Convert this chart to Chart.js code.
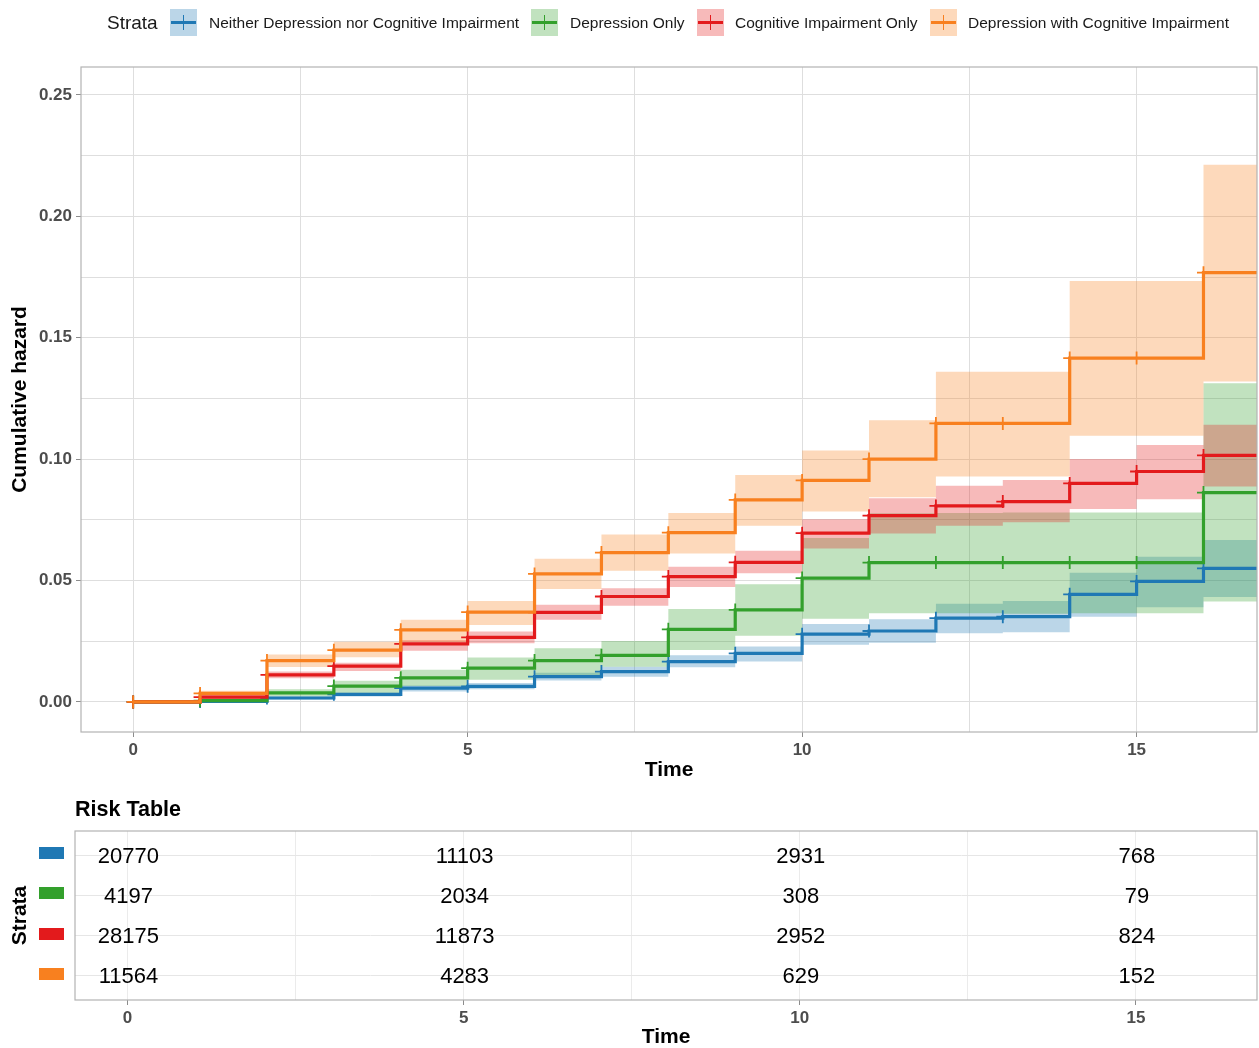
<!DOCTYPE html>
<html>
<head>
<meta charset="utf-8">
<title>Cumulative hazard by strata</title>
<script src="https://cdn.jsdelivr.net/npm/chart.js@4.4.1/dist/chart.umd.min.js"></script>
<style>
  html, body { margin: 0; padding: 0; background: #ffffff; overflow: hidden; }
  #page { position: relative; width: 1259px; height: 1048px; font-family: 'Liberation Sans', Arial, Helvetica, sans-serif; color: #1a1a1a; }
  canvas { position: absolute; left: 0; }
  #hazardChart { top: 0; }
  #riskChart { top: 790px; }
  .lg-title { position: absolute; left: 107px; top: 9px; height: 27px; line-height: 27px; font-size: 19px; }
  .lg-text { position: absolute; top: 9px; height: 27px; line-height: 27px; font-size: 15.5px; white-space: nowrap; }
  .lg-key { position: absolute; top: 9px; width: 27px; height: 27px; }
  .lg-key .h { position: absolute; left: 1px; width: 25px; top: 12px; height: 3px; }
  .lg-key .v { position: absolute; left: 12.5px; width: 1.7px; top: 6px; height: 15px; }
  #riskTitle { position: absolute; left: 75px; top: 797px; line-height: 24px; font-size: 21.5px; font-weight: bold; color: #000; }
</style>
</head>
<body>
<div id="page">
  <canvas id="hazardChart" width="1259" height="790"></canvas>
  <canvas id="riskChart" width="1259" height="260"></canvas>
  <div id="legend"></div>
  <div id="riskTitle">Risk Table</div>
</div>
<script>
// ---- data ----
const strata = [
  'Neither Depression nor Cognitive Impairment',
  'Depression Only',
  'Cognitive Impairment Only',
  'Depression with Cognitive Impairment'
];
const strataColors = ['#1f78b4', '#33a02c', '#e31a1c', '#f8801f'];

// follow-up years at which the cumulative hazard steps
const times = [0, 1, 2, 3, 4, 5, 6, 7, 8, 9, 10, 11, 12, 13, 14, 15, 16];

const hazNeither  = [0, 0.0002, 0.0016, 0.0031, 0.0057, 0.0064, 0.0104, 0.0125, 0.0166, 0.0200, 0.0279, 0.0292, 0.0345, 0.0351, 0.0443, 0.0496, 0.0550];
const lowNeither  = [0, 0.0000, 0.0010, 0.0022, 0.0043, 0.0052, 0.0088, 0.0104, 0.0143, 0.0166, 0.0235, 0.0244, 0.0283, 0.0287, 0.0351, 0.0390, 0.0432];
const highNeither = [0, 0.0006, 0.0022, 0.0038, 0.0068, 0.0078, 0.0120, 0.0145, 0.0192, 0.0228, 0.0321, 0.0340, 0.0404, 0.0416, 0.0532, 0.0598, 0.0667];

const hazDepOnly  = [0, 0.0005, 0.0037, 0.0065, 0.0099, 0.0139, 0.0170, 0.0192, 0.0299, 0.0379, 0.0510, 0.0574, 0.0574, 0.0574, 0.0574, 0.0574, 0.0862];
const lowDepOnly  = [0, 0.0000, 0.0022, 0.0036, 0.0065, 0.0091, 0.0111, 0.0145, 0.0214, 0.0272, 0.0342, 0.0365, 0.0365, 0.0363, 0.0365, 0.0365, 0.0413];
const highDepOnly = [0, 0.0013, 0.0052, 0.0087, 0.0132, 0.0183, 0.0221, 0.0251, 0.0383, 0.0485, 0.0675, 0.0777, 0.0778, 0.0780, 0.0780, 0.0780, 0.1312];

const hazCogOnly  = [0, 0.0020, 0.0111, 0.0147, 0.0239, 0.0266, 0.0369, 0.0434, 0.0516, 0.0575, 0.0695, 0.0767, 0.0807, 0.0825, 0.0900, 0.0949, 0.1015];
const lowCogOnly  = [0, 0.0012, 0.0097, 0.0127, 0.0211, 0.0242, 0.0338, 0.0396, 0.0473, 0.0530, 0.0632, 0.0694, 0.0725, 0.0740, 0.0795, 0.0835, 0.0887];
const highCogOnly = [0, 0.0030, 0.0125, 0.0161, 0.0255, 0.0290, 0.0400, 0.0468, 0.0557, 0.0623, 0.0752, 0.0839, 0.0890, 0.0914, 0.1000, 0.1058, 0.1141];

const hazBoth  = [0, 0.0035, 0.0170, 0.0213, 0.0297, 0.0370, 0.0527, 0.0615, 0.0697, 0.0832, 0.0912, 0.1000, 0.1147, 0.1147, 0.1416, 0.1416, 0.1768];
const lowBoth  = [0, 0.0024, 0.0144, 0.0184, 0.0247, 0.0317, 0.0465, 0.0540, 0.0611, 0.0726, 0.0784, 0.0843, 0.0928, 0.0928, 0.1096, 0.1096, 0.1320];
const highBoth = [0, 0.0046, 0.0195, 0.0248, 0.0338, 0.0416, 0.0590, 0.0689, 0.0778, 0.0935, 0.1035, 0.1160, 0.1360, 0.1360, 0.1734, 0.1734, 0.2212];

// numbers at risk
const riskTimes    = [0, 5, 10, 15];
const riskNeither  = [20770, 11103, 2931, 768];
const riskDepOnly  = [4197, 2034, 308, 79];
const riskCogOnly  = [28175, 11873, 2952, 824];
const riskBoth     = [11564, 4283, 629, 152];

// axis ranges
const X_MIN = -0.78, X_MAX = 16.8;
const Y_MIN = -0.0124, Y_MAX = 0.2615;
const xTickStep = 2.5, xLabelStep = 5;
const yTickStep = 0.025, yLabelStep = 0.05;

// ---- helpers ----
const FONT = "'Liberation Sans', Arial, Helvetica, sans-serif";
Chart.defaults.font.family = FONT;

function hexToRgba(hex, a) {
  const n = parseInt(hex.slice(1), 16);
  return `rgba(${(n >> 16) & 255},${(n >> 8) & 255},${n & 255},${a})`;
}
function isMultiple(v, step) {
  const k = v / step;
  return Math.abs(k - Math.round(k)) < 1e-6;
}
// step function points; the last value is carried to the end of the axis
function stepPoints(values) {
  const pts = times.map((t, i) => ({ x: t, y: values[i] }));
  pts.push({ x: X_MAX, y: values[values.length - 1] });
  return pts;
}

const series = [
  { label: strata[0], color: strataColors[0], haz: hazNeither, low: lowNeither, high: highNeither },
  { label: strata[1], color: strataColors[1], haz: hazDepOnly, low: lowDepOnly, high: highDepOnly },
  { label: strata[2], color: strataColors[2], haz: hazCogOnly, low: lowCogOnly, high: highCogOnly },
  { label: strata[3], color: strataColors[3], haz: hazBoth,    low: lowBoth,    high: highBoth }
];

// ---- legend ----
const legend = document.getElementById('legend');
const keyLeft = [170, 531, 697, 930];
const textLeft = [209, 570, 735, 968];
legend.innerHTML = '<div class="lg-title">Strata</div>' + series.map((s, i) =>
  `<div class="lg-key" style="left:${keyLeft[i]}px;background:${hexToRgba(s.color, 0.3)}">` +
  `<div class="h" style="background:${s.color}"></div><div class="v" style="background:${s.color}"></div></div>` +
  `<div class="lg-text" style="left:${textLeft[i]}px">${s.label}</div>`
).join('');

// ---- shared plugins ----
const panelBorder = {
  id: 'panelBorder',
  afterDatasetsDraw(chart) {
    const { ctx, chartArea: a } = chart;
    ctx.save();
    ctx.strokeStyle = '#b3b3b3';
    ctx.lineWidth = 1.2;
    ctx.strokeRect(a.left, a.top, a.right - a.left, a.bottom - a.top);
    ctx.restore();
  }
};

const tickFont = { family: FONT, size: 17, weight: 'bold' };
const titleFont = { family: FONT, size: 21, weight: 'bold' };

// ---- cumulative hazard chart ----
const datasets = [];
series.forEach((s, i) => {
  datasets.push({
    label: s.label + ' (lower)', data: stepPoints(s.low), stepped: true,
    borderWidth: 0, borderColor: 'rgba(0,0,0,0)', pointRadius: 0, fill: false, order: 10 - i
  });
  datasets.push({
    label: s.label + ' (upper)', data: stepPoints(s.high), stepped: true,
    borderWidth: 0, borderColor: 'rgba(0,0,0,0)', pointRadius: 0,
    fill: '-1', backgroundColor: hexToRgba(s.color, 0.3), order: 10 - i
  });
});
series.forEach((s, i) => {
  datasets.push({
    label: s.label, data: stepPoints(s.haz), stepped: true,
    borderColor: s.color, borderWidth: 3.2, fill: false,
    pointStyle: 'cross',
    pointRadius: ctx => (ctx.dataIndex < times.length ? 6.5 : 0),
    pointBorderWidth: 1.8, pointBorderColor: s.color, pointBackgroundColor: s.color,
    order: 5 - i
  });
});

new Chart(document.getElementById('hazardChart'), {
  type: 'line',
  data: { datasets },
  options: {
    responsive: false, animation: false, events: [],
    layout: { autoPadding: false, padding: { top: 67, right: 2, left: 0, bottom: 0 } },
    plugins: { legend: { display: false }, tooltip: { enabled: false } },
    scales: {
      x: {
        type: 'linear', min: X_MIN, max: X_MAX,
        afterFit: s => { s.height = 58; },
        ticks: {
          stepSize: xTickStep, includeBounds: false, autoSkip: false, maxRotation: 0,
          padding: 3, color: '#4d4d4d', font: tickFont,
          callback: v => (isMultiple(v, xLabelStep) ? String(Math.round(v)) : '')
        },
        grid: {
          color: '#dedede', lineWidth: 1, tickLength: 5,
          tickColor: c => (c.tick && isMultiple(c.tick.value, xLabelStep) ? '#8c8c8c' : 'rgba(0,0,0,0)')
        },
        border: { display: false },
        title: { display: true, text: 'Time', color: '#000', font: titleFont, padding: { top: 0, bottom: 7.5 } }
      },
      y: {
        type: 'linear', min: Y_MIN, max: Y_MAX,
        afterFit: s => { s.width = 81; },
        ticks: {
          stepSize: yTickStep, includeBounds: false, autoSkip: false,
          padding: 4, color: '#4d4d4d', font: tickFont,
          callback: v => (isMultiple(v, yLabelStep) ? v.toFixed(2) : '')
        },
        grid: {
          color: '#dedede', lineWidth: 1, tickLength: 5,
          tickColor: c => (c.tick && isMultiple(c.tick.value, yLabelStep) ? '#8c8c8c' : 'rgba(0,0,0,0)')
        },
        border: { display: false },
        title: { display: true, text: 'Cumulative hazard', color: '#000', font: titleFont, padding: { top: 7.5, bottom: 0 } }
      }
    }
  },
  plugins: [panelBorder]
});

// ---- risk table ----
const riskRows = [riskNeither, riskDepOnly, riskCogOnly, riskBoth];
const riskPoints = [];
riskRows.forEach((row, r) => row.forEach((n, j) => riskPoints.push({ x: riskTimes[j], y: r + 1, n })));

const riskLabels = {
  id: 'riskLabels',
  afterDatasetsDraw(chart) {
    const { ctx } = chart;
    const meta = chart.getDatasetMeta(0);
    const raw = chart.data.datasets[0].data;
    ctx.save();
    ctx.font = `22px ${FONT}`;
    ctx.fillStyle = '#000';
    ctx.textAlign = 'center';
    ctx.textBaseline = 'middle';
    meta.data.forEach((el, k) => ctx.fillText(String(raw[k].n), el.x + 1, el.y + 1.5));
    ctx.restore();
  },
  afterDraw(chart) {
    const { ctx, scales: { y } } = chart;
    ctx.save();
    strataColors.forEach((c, r) => {
      const py = y.getPixelForValue(r + 1);
      ctx.fillStyle = c;
      ctx.fillRect(39, Math.round(py - 8), 25, 12);
    });
    ctx.restore();
  }
};

new Chart(document.getElementById('riskChart'), {
  type: 'scatter',
  data: { datasets: [{ label: 'Number at risk', data: riskPoints, pointRadius: 0, showLine: false }] },
  options: {
    responsive: false, animation: false, events: [],
    layout: { autoPadding: false, padding: { top: 41, right: 2, left: 0, bottom: 0 } },
    plugins: { legend: { display: false }, tooltip: { enabled: false } },
    scales: {
      x: {
        type: 'linear', min: X_MIN, max: X_MAX,
        afterFit: s => { s.height = 50; },
        ticks: {
          stepSize: xTickStep, includeBounds: false, autoSkip: false, maxRotation: 0,
          padding: 3, color: '#4d4d4d', font: tickFont,
          callback: v => (isMultiple(v, xLabelStep) ? String(Math.round(v)) : '')
        },
        grid: {
          color: '#ebebeb', lineWidth: 1, tickLength: 5,
          tickColor: c => (c.tick && isMultiple(c.tick.value, xLabelStep) ? '#8c8c8c' : 'rgba(0,0,0,0)')
        },
        border: { display: false },
        title: { display: true, text: 'Time', color: '#000', font: titleFont, padding: { top: 0, bottom: 0 } }
      },
      y: {
        type: 'linear', min: 0.4, max: 4.6, reverse: true,
        afterFit: s => { s.width = 75; },
        ticks: { stepSize: 1, includeBounds: false, display: false },
        grid: { color: '#e6e6e6', lineWidth: 1, drawTicks: false },
        border: { display: false },
        title: { display: true, text: 'Strata', color: '#000', font: titleFont, padding: { top: 7.5, bottom: 0 } }
      }
    }
  },
  plugins: [riskLabels, panelBorder]
});
</script>
</body>
</html>
